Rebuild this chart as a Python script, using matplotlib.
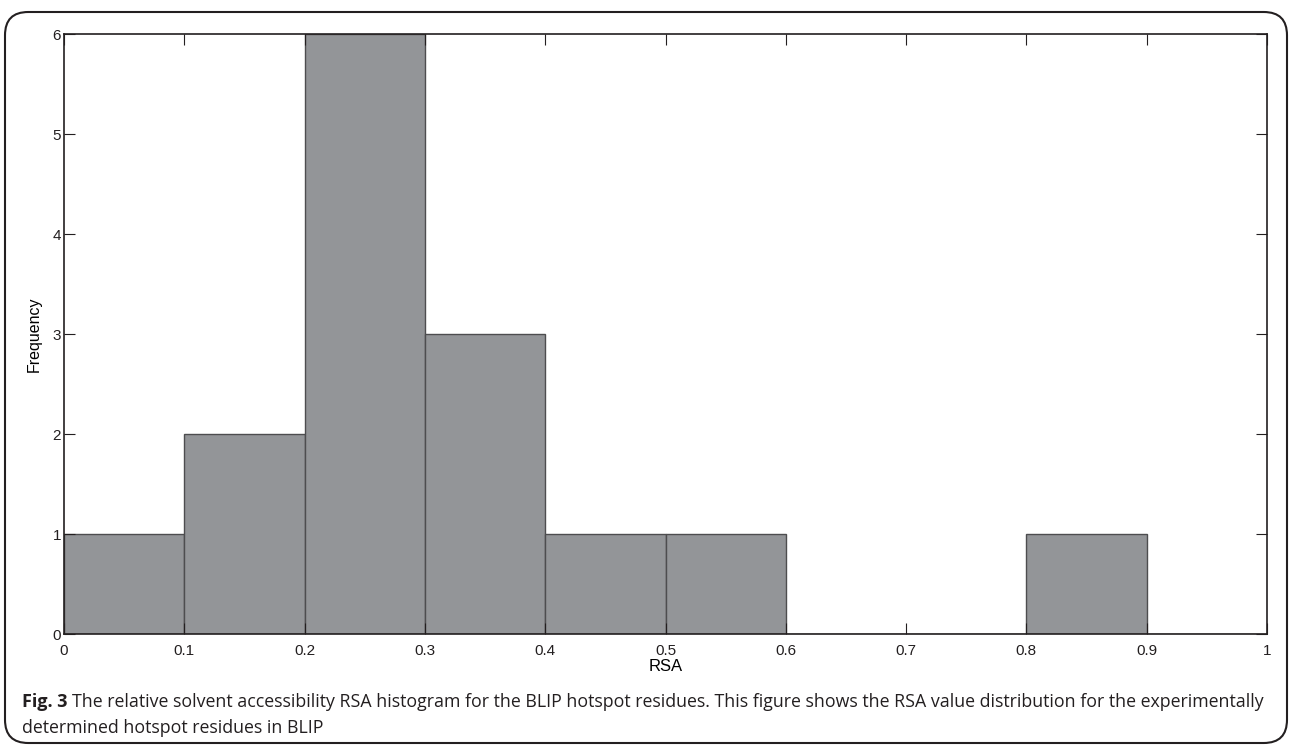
import numpy as np
import matplotlib.pyplot as plt
from matplotlib.patches import FancyBboxPatch

# Histogram data (RSA bins and counts)
bin_edges = [0.0, 0.1, 0.2, 0.3, 0.4, 0.5, 0.6, 0.7, 0.8, 0.9, 1.0]
counts = [1, 2, 6, 3, 1, 1, 0, 0, 1, 0]
x_ticks = [0, 0.1, 0.2, 0.3, 0.4, 0.5, 0.6, 0.7, 0.8, 0.9, 1]
x_tick_labels = ['0', '0.1', '0.2', '0.3', '0.4', '0.5', '0.6', '0.7', '0.8', '0.9', '1']
y_ticks = [0, 1, 2, 3, 4, 5, 6]

plt.rcParams['font.family'] = ['Liberation Sans', 'DejaVu Sans']

fig = plt.figure(figsize=(12.92, 7.46), dpi=100)

# rounded frame around the figure
frame = FancyBboxPatch((5 / 1292, 3 / 746), 1282 / 1292, 731 / 746,
                       boxstyle='round,pad=0,rounding_size=0.018',
                       transform=fig.transFigure, facecolor='none',
                       edgecolor='#231f20', linewidth=1.5, mutation_aspect=1292 / 746)
fig.patches.append(frame)

ax = fig.add_axes([64 / 1292, 112 / 746, 1203 / 1292, 600 / 746])

lefts = np.array(bin_edges[:-1])
widths = np.diff(bin_edges)
ax.bar(lefts, counts, width=widths, align='edge', color='#939598',
       edgecolor='#4d4d4f', linewidth=1.0)

ax.set_xlim(0, 1)
ax.set_ylim(0, 6)
ax.set_xticks(x_ticks)
ax.set_xticklabels(x_tick_labels)
ax.set_yticks(y_ticks)
ax.tick_params(direction='in', top=True, right=True, length=8, width=0.8,
               labelsize=11, colors='#231f20', pad=7)
ax.tick_params(axis='y', pad=2)
for s in ax.spines.values():
    s.set_linewidth(1.2)
    s.set_color('#231f20')

ax.set_xlabel('RSA', fontsize=12, labelpad=1)
ax.set_ylabel('Frequency', fontsize=11.5, labelpad=8)

# caption
cap_font = ['Open Sans', 'DejaVu Sans']
y1 = 1 - 707 / 746
bold = fig.text(22 / 1292, y1, 'Fig. 3', fontsize=13, fontweight='bold',
                family=cap_font, color='#231f20', va='baseline')
fig.canvas.draw()
bb = bold.get_window_extent()
fig.text((bb.x1 + 5) / 1292, y1,
         'The relative solvent accessibility RSA histogram for the BLIP hotspot residues. '
         'This figure shows the RSA value distribution for the experimentally',
         fontsize=12.8, family=cap_font, color='#231f20', va='baseline')
fig.text(22 / 1292, 1 - 733 / 746, 'determined hotspot residues in BLIP',
         fontsize=12.8, family=cap_font, color='#231f20', va='baseline')

fig.savefig('out.png', dpi=100)
